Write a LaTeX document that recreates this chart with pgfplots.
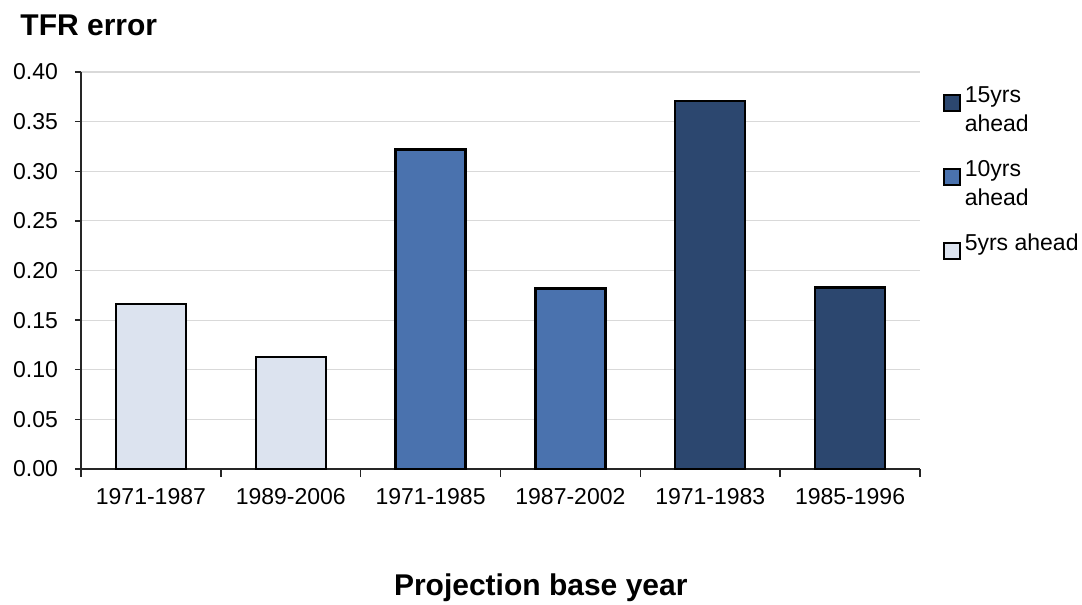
\documentclass[border=0pt]{standalone}
\usepackage{fontspec}
\setmainfont{Liberation Sans}
\usepackage{pgfplots}
\pgfplotsset{compat=1.18}
\definecolor{fiveyr}{HTML}{DCE3EF}
\definecolor{tenyr}{HTML}{4A72AE}
\definecolor{fifteenyr}{HTML}{2C476F}
\definecolor{gridgray}{HTML}{D9D9D9}

\begin{document}
\begin{tikzpicture}
\begin{axis}[
  at={(0,0)}, anchor=south west,
  scale only axis, width=419.5pt, height=198.5pt,
  xmin=-0.5, xmax=5.5, ymin=0, ymax=0.40,
  axis lines=left,
  axis line style={-, black!85, line width=0.7pt},
  ybar, bar width=0.5,
  xtick={0,1,2,3,4,5},
  xticklabels={1971-1987,1989-2006,1971-1985,1987-2002,1971-1983,1985-1996},
  minor xtick={-0.5,0.5,1.5,2.5,3.5,4.5,5.5},
  major x tick style={draw=none},
  minor x tick style={black!85, line width=0.7pt},
  ytick={0,0.05,0.10,0.15,0.20,0.25,0.30,0.35,0.40},
  ytick style={black!85, line width=0.7pt},
  tick align=outside, major tick length=3pt, minor tick length=4pt,
  yticklabel style={xshift=-5pt, /pgf/number format/.cd, fixed, fixed zerofill, precision=2},
  /pgf/number format/assume math mode=true,
  ymajorgrids, grid style={gridgray, line width=0.6pt},
  tick label style={font=\fontsize{11.5}{14}\selectfont, black},
  xticklabel style={yshift=-3pt},
  title={TFR error},
  title style={at={(axis description cs:0,1)}, anchor=base west,
    xshift=-33.8pt, yshift=12.2pt, font=\fontsize{15}{18}\selectfont\bfseries},
  xlabel={Projection base year},
  xlabel style={at={(axis description cs:0.548,0)}, anchor=base,
    yshift=-63pt, font=\fontsize{15}{18}\selectfont\bfseries},
  legend style={at={(1,1)}, anchor=north west, xshift=11.5pt, yshift=-5.5pt,
    draw=none, fill=none, inner sep=0pt, outer sep=0pt,
    font=\fontsize{11.5}{14}\selectfont, row sep=0pt, column sep=2pt,
    nodes={inner sep=0pt}, cells={anchor=base west}},
  legend image code/.code={
    \path[draw=none, fill=none] (0pt,-4.2pt) -- (0pt,9.8pt);
    \draw[#1, line width=0.9pt] (0pt,-4pt) rectangle (8pt,4pt);},
]
\addplot[bar shift=0pt, fill=fifteenyr, draw=black, line width=1.2pt] coordinates {(4,0.371) (5,0.183)};
\addlegendentry{15yrs}
\addlegendimage{legend image code/.code={\path[draw=none, fill=none] (0pt,-13pt) -- (0pt,9.8pt);}}
\addlegendentry{ahead}
\addplot[bar shift=0pt, fill=tenyr, draw=black, line width=1.2pt] coordinates {(2,0.322) (3,0.182)};
\addlegendentry{10yrs}
\addlegendimage{legend image code/.code={\path[draw=none, fill=none] (0pt,-13pt) -- (0pt,9.8pt);}}
\addlegendentry{ahead}
\addplot[bar shift=0pt, fill=fiveyr, draw=black, line width=1.2pt] coordinates {(0,0.166) (1,0.113)};
\addlegendentry{5yrs ahead}
\end{axis}
\pgfresetboundingbox
\path (-40.5pt,-68pt) rectangle (500.5pt,234.5pt);
\end{tikzpicture}
\end{document}
